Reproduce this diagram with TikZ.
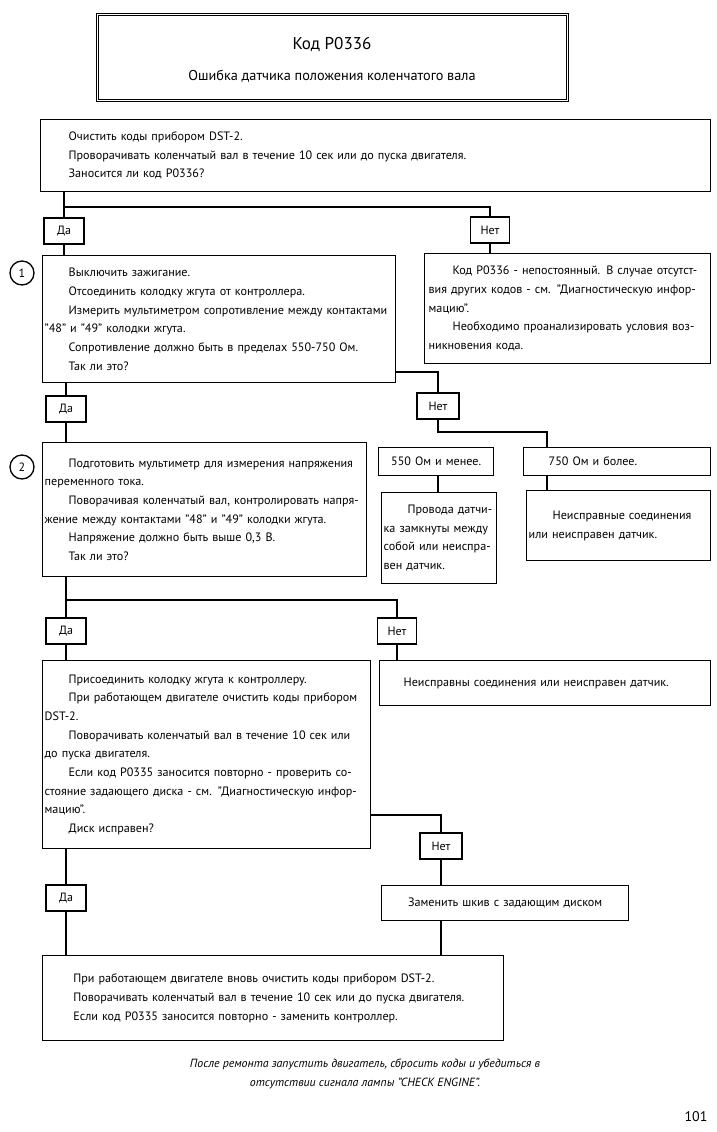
\documentclass[tikz,border=0pt]{standalone}
\usepackage{fontspec}
\setmainfont{PT Sans}
\newcommand{\ind}{\hspace*{18pt}}
\newcommand{\jl}[1]{\makebox[\hsize][s]{#1}}

\begin{document}
\begin{tikzpicture}[x=0.75pt,y=0.75pt,yscale=-1,xscale=1,
  box/.style={draw, line width=1pt, anchor=north west, inner ysep=0pt, align=left, font=\fontsize{9.1}{14}\selectfont},
  yn/.style={draw, line width=1pt, minimum width=30pt, minimum height=19.5pt, inner sep=0pt, font=\fontsize{9}{10}\selectfont},
  num/.style={draw, circle, line width=1pt, minimum size=18pt, inner sep=0pt, font=\fontsize{9}{10}\selectfont},
  link/.style={line width=2.2pt},
  ]
\useasboundingbox (0,0) rectangle (717,1132);

% Title
\node [draw, double, double distance=1pt, line width=0.6pt, anchor=north west, minimum width=352.5pt, minimum height=64.5pt, inner sep=0pt] (title) at (97,14) {};
\node [font=\fontsize{12.8}{16}\selectfont] (code) at (332,45) {Код P0336};
\node [font=\fontsize{10.7}{13}\selectfont] (sub) at (332,76) {Ошибка датчика положения коленчатого вала};

% Boxes
\node [box, inner xsep=21pt, text width=460.5pt, minimum height=54pt] (A) at (40,119) {Очистить коды прибором DST-2.\\
Проворачивать коленчатый вал в течение 10 сек или до пуска двигателя.\\
Заносится ли код P0336?};

\node [box, inner xsep=1.5pt, text width=261.75pt, minimum height=95.25pt] (b1) at (42,255) {\ind Выключить зажигание.\\
\ind Отсоединить колодку жгута от контроллера.\\
\jl{\ind Измерить мультиметром сопротивление между контактами}\\
"48" и "49" колодки жгута.\\
\ind Сопротивление должно быть в пределах 550-750 Ом.\\
\ind Так ли это?};

\node [box, inner xsep=3pt, text width=208.5pt, minimum height=82.5pt] (info) at (424,253) {\jl{\ind Код P0336 - непостоянный. В случае отсутст-}\\
\jl{вия других кодов - см. "Диагностическую инфор-}\\
мацию".\\
\jl{\ind Необходимо проанализировать условия воз-}\\
никновения кода.};

\node [box, inner xsep=1.5pt, text width=240pt, minimum height=100.5pt] (b2) at (42,442) {\jl{\ind Подготовить мультиметр для измерения напряжения}\\
переменного тока.\\
\jl{\ind Поворачивая коленчатый вал, контролировать напря-}\\
\jl{жение между контактами "48" и "49" колодки жгута.}\\
\ind Напряжение должно быть выше 0,3 В.\\
\ind Так ли это?};

\node [box, inner xsep=1.5pt, text width=83.25pt, minimum height=21pt, align=center] (k550) at (378,447) {550 Ом и менее.};
\node [box, inner xsep=18.75pt, text width=102.75pt, minimum height=21pt] (k750) at (523,447) {750 Ом и более.};

\node [box, inner xsep=1.5pt, text width=83.25pt, minimum height=68.25pt] (p550) at (381,492) {\jl{\ind Провода датчи-}\\
\jl{ка замкнуты между}\\
\jl{собой или неиспра-}\\
вен датчик.};
\node [box, inner xsep=1.5pt, text width=135pt, minimum height=52.5pt] (p750) at (526,490) {\jl{\ind Неисправные соединения}\\
или неисправен датчик.};

\node [box, inner xsep=1.5pt, text width=243pt, minimum height=141pt] (b3) at (42,660) {\ind Присоединить колодку жгута к контроллеру.\\
\jl{\ind При работающем двигателе очистить коды прибором}\\
DST-2.\\
\jl{\ind Поворачивать коленчатый вал в течение 10 сек или}\\
до пуска двигателя.\\
\jl{\ind Если код P0335 заносится повторно - проверить со-}\\
\jl{стояние задающего диска - см. "Диагностическую инфор-}\\
мацию".\\
\ind Диск исправен?};

\node [box, inner xsep=18pt, text width=212.25pt, minimum height=33.75pt] (r3) at (379,660) {Неисправны соединения или неисправен датчик.};

\node [box, inner xsep=1.5pt, text width=182.25pt, minimum height=26.25pt, align=center] (zam) at (381,885) {Заменить шкив с задающим диском};

\node [box, inner xsep=23pt, text width=299.75pt, minimum height=63.75pt] (fin) at (42,955) {При работающем двигателе вновь очистить коды прибором DST-2.\\
Поворачивать коленчатый вал в течение 10 сек или до пуска двигателя.\\
Если код P0335 заносится повторно - заменить контроллер.};

% Step numbers
\node [num] (n1) at (22,273) {1};
\node [num] (n2) at (22,467) {2};

% Yes / No
\node [yn] (da1) at (64,231) {Да};
\node [yn, minimum width=29pt] (net1) at (490,230) {Нет};
\node [yn] (da2) at (66,409) {Да};
\node [yn, minimum width=31.5pt] (net2) at (438,406) {Нет};
\node [yn] (da3) at (66,631) {Да};
\node [yn, minimum width=29pt] (net3) at (397,631) {Нет};
\node [yn, minimum width=31.5pt] (net4) at (441,846) {Нет};
\node [yn] (da4) at (66,898) {Да};

% Connectors
\coordinate (j1) at (490,207);
\draw [link] (A.south -| da1) -- (da1.north);
\draw [link] (da1 |- j1) -- (j1) -- (net1.north);
\draw [link] (da1.south) -- (b1.north -| da1);
\draw [link] (net1.south) -- (info.north -| net1);

\coordinate (j2) at (438,372);
\draw [link] (b1.east |- j2) -- (j2) -- (net2.north);
\draw [link] (b1.south -| da2) -- (da2.north);
\draw [link] (da2.south) -- (b2.north -| da2);
\coordinate (j3) at (547,432);
\draw [link] (net2.south) -- (net2 |- j3) -- (j3) -- (k750.north -| j3);
\draw [link] (k550.south -| net2) -- (p550.north -| net2);
\draw [link] (k750.south -| j3) -- (p750.north -| j3);

\coordinate (j4) at (397,600);
\draw [link] (b2.south -| da3) -- (da3.north);
\draw [link] (da3 |- j4) -- (j4) -- (net3.north);
\draw [link] (da3.south) -- (b3.north -| da3);
\draw [link] (net3.south) -- (r3.north -| net3);

\coordinate (j5) at (441,815);
\draw [link] (b3.east |- j5) -- (j5) -- (net4.north);
\draw [link] (net4.south) -- (zam.north -| net4);
\draw [link] (zam.south -| net4) -- (fin.north -| net4);
\draw [link] (b3.south -| da4) -- (da4.north);
\draw [link] (da4.south) -- (fin.north -| da4);

% Footer
\node [align=center, font=\itshape\fontsize{8.9}{14}\selectfont] (note) at (365,1074) {После ремонта запустить двигатель, сбросить коды и убедиться в\\
отсутствии сигнала лампы "CHECK ENGINE".};
\node [font=\fontsize{10.5}{12}\selectfont] (pg) at (696,1117) {101};

\end{tikzpicture}
\end{document}
